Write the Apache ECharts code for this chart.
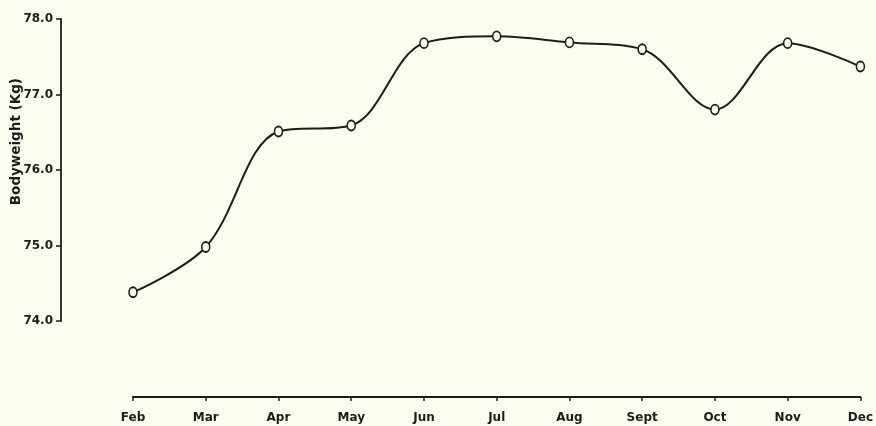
<!DOCTYPE html>
<html>
<head>
<meta charset="utf-8">
<script src="https://cdn.jsdelivr.net/npm/echarts@6/dist/echarts.min.js"></script>
<style>
  html, body { margin: 0; padding: 0; background: #fdfcf0; }
  #main { width: 876px; height: 426px; }
</style>
</head>
<body>
<div id="main"></div>
<script>
// months along the bottom
var months = ['Feb', 'Mar', 'Apr', 'May', 'Jun', 'Jul', 'Aug', 'Sept', 'Oct', 'Nov', 'Dec'];
// bodyweight in kg
var bodyweight = [74.38, 74.98, 76.51, 76.59, 77.68, 77.77, 77.69, 77.60, 76.80, 77.68, 77.37];
var yMin = 74, yMax = 78, yStep = 1;

var ink = '#1c1c1c';
var font = 'DejaVu Sans';

var chart = echarts.init(document.getElementById('main'));
chart.setOption({
  backgroundColor: '#fdfcf0',
  animation: false,
  grid: { left: 133, right: 11, top: 19, bottom: 105 },
  xAxis: {
    type: 'category',
    data: months,
    boundaryGap: false,
    offset: 76,
    axisLine: { lineStyle: { color: ink, width: 1.8 } },
    axisTick: { length: 4, lineStyle: { color: ink, width: 1.5 } },
    axisLabel: { color: ink, fontFamily: font, fontSize: 12, fontWeight: 'bold', margin: 15 }
  },
  yAxis: {
    type: 'value',
    min: yMin,
    max: yMax,
    interval: yStep,
    offset: 72,
    axisLine: { show: true, lineStyle: { color: ink, width: 1.8 } },
    axisTick: { show: true, length: 5, lineStyle: { color: ink, width: 1.5 } },
    axisLabel: {
      color: ink, fontFamily: font, fontSize: 12, fontWeight: 'bold', margin: 8,
      formatter: function (v) { return v.toFixed(1); }
    },
    splitLine: { show: false }
  },
  graphic: [{
    type: 'text',
    left: 9,
    top: 78,
    rotation: Math.PI / 2,
    style: {
      text: 'Bodyweight (Kg)',
      fill: ink,
      font: 'bold 13.5px "DejaVu Sans"'
    }
  }],
  series: [{
    type: 'line',
    data: bodyweight,
    smooth: 0.35,
    symbol: 'circle',
    symbolSize: [8, 10],
    itemStyle: { color: '#fdfcf0', borderColor: ink, borderWidth: 1.7 },
    lineStyle: { color: ink, width: 2 }
  }]
});
</script>
</body>
</html>
